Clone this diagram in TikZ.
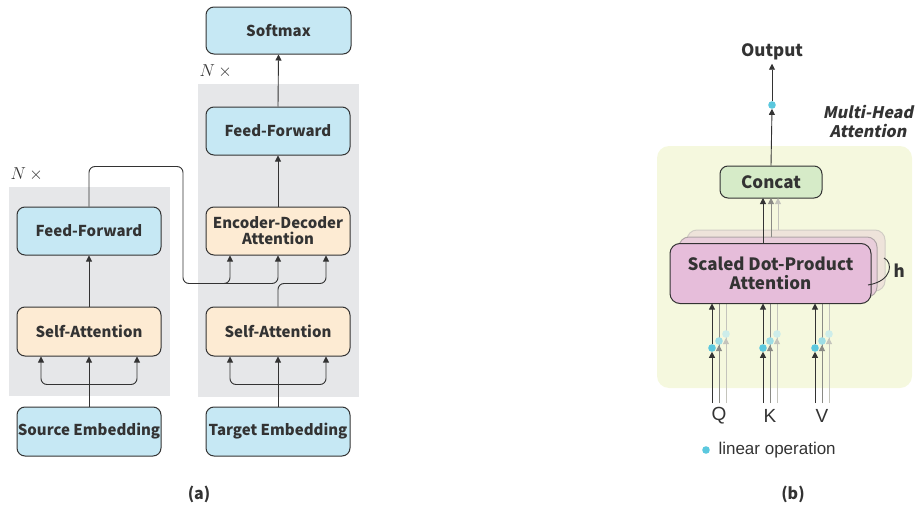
\documentclass[tikz,border=0pt]{standalone}
\usepackage{fontspec}
\setmainfont{Noto Sans CJK SC}
\newfontfamily\slantf[FakeSlant=0.2]{Noto Sans CJK SC}
\newfontfamily\arialf{Liberation Sans}
\usetikzlibrary{arrows.meta,calc}
\definecolor{boxblue}{HTML}{C6E8F4}
\definecolor{boxorange}{HTML}{FDEBD3}
\definecolor{bggray}{HTML}{E6E7E9}
\definecolor{bgyellow}{HTML}{F5F8DE}
\definecolor{boxpink}{HTML}{E6BDDA}
\definecolor{boxpinkb}{HTML}{E9CEDB}
\definecolor{boxbeige}{HTML}{EEE3DA}
\definecolor{boxgreen}{HTML}{D6EBC8}
\definecolor{dotcyan}{HTML}{5BC8DE}
\definecolor{dotcyanb}{HTML}{9EDDE5}
\definecolor{dotcyanc}{HTML}{CDEDEA}
\definecolor{linegray}{HTML}{8A8A85}
\definecolor{linelight}{HTML}{C4C4BC}
\definecolor{edge}{HTML}{333333}
\tikzset{
  blk/.style={draw=edge, line width=1pt, rounded corners=8pt, minimum width=144pt, minimum height=48pt, font=\fontsize{15}{18}\selectfont\bfseries, text=edge, align=center, inner sep=0pt},
  bluebox/.style={blk, fill=boxblue},
  orangebox/.style={blk, fill=boxorange},
  arr/.style={draw=edge, line width=0.9pt, -{Triangle[length=6pt,width=6pt]}},
  ln/.style={draw=edge, line width=0.9pt},
  lbl/.style={font=\fontsize{17}{20}\selectfont\bfseries, text=edge},
  nlab/.style={anchor=west, font=\fontsize{16}{19}\selectfont, text=edge},
}
\begin{document}
\begin{tikzpicture}[x=1pt,y=-1pt]
\useasboundingbox (0,0) rectangle (919,506);
% ---------- (a) ----------
\fill[bggray] (9,187) rectangle (170,396);
\fill[bggray] (198,84) rectangle (359,397);
\node[nlab] (nl) at (7,174) {$N$ $\times$};
\node[nlab] (nr) at (196,71) {$N$ $\times$};

\node[bluebox] (lff) at (89,231) {Feed-Forward};
\node[orangebox, minimum height=49pt] (lsa) at (89,331.5) {Self-Attention};
\node[bluebox, minimum height=49pt] (src) at (89,431.5) {Source Embedding};

\node[bluebox, minimum width=145pt, minimum height=47pt] (soft) at (278.5,30.5) {Softmax};
\node[bluebox] (rff) at (278,131) {Feed-Forward};
\node[orangebox] (ed) at (278,231) {Encoder-Decoder\\[-2pt]Attention};
\node[orangebox, minimum height=49pt] (rsa) at (278,331.5) {Self-Attention};
\node[bluebox, minimum height=49pt] (tgt) at (278,431.5) {Target Embedding};

% left encoder
\draw[arr] (src.north) -- (lsa.south);
\draw[arr, rounded corners=6pt] ($(lsa.south)+(0,28)$) -| ($(lsa.south)+(-48,0)$);
\draw[arr, rounded corners=6pt] ($(lsa.south)+(0,28)$) -| ($(lsa.south)+(48,0)$);
\draw[arr] (lsa.north) -- (lff.south);
% right decoder
\draw[arr] (tgt.north) -- (rsa.south);
\draw[arr, rounded corners=6pt] ($(rsa.south)+(0,28)$) -| ($(rsa.south)+(-48,0)$);
\draw[arr, rounded corners=6pt] ($(rsa.south)+(0,28)$) -| ($(rsa.south)+(48,0)$);
\draw[arr, rounded corners=6pt] (rsa.north) -- ++(0,-23) -| ($(ed.south)+(48,0)$);
\draw[arr, rounded corners=6pt] (lff.north) -- ++(0,-40) -| ($(ed.south)+(-95,28)$) -| (ed.south);
\draw[arr, rounded corners=6pt] ($(ed.south)+(-70,28)$) -| ($(ed.south)+(-48,0)$);
\draw[arr] (ed.north) -- (rff.south);
\draw[arr] (rff.north) -- (soft.south);

\node[lbl, font=\fontsize{16}{19}\selectfont\bfseries] (la) at (199,494) {(a)};

% ---------- (b) ----------
\fill[bgyellow, rounded corners=12pt] (657,146) rectangle (912,388);
\node[lbl, font=\slantf\fontsize{16}{20}\selectfont\bfseries, align=center, text=edge] (mha) at (868,121) {Multi-Head\\[-1pt]Attention};

% stacked heads
\draw[draw=linelight!70!boxbeige, line width=1pt, fill=boxbeige, rounded corners=10pt] (687,230) rectangle (885,291);
\draw[draw=linegray!60!boxpinkb, line width=1pt, fill=boxpinkb, rounded corners=10pt] (679,237) rectangle (877,297);

\node[blk, fill=boxgreen, minimum width=102pt, minimum height=32pt, font=\fontsize{17}{20}\selectfont\bfseries] (concat) at (771,182) {Concat};
\node[lbl] (out) at (772,52) {Output};
\coordinate (odot) at (772,105);

% lines from heads to concat
\draw[draw=linelight, line width=0.9pt, -{Triangle[length=6pt,width=6pt]}] (778,230) -- (778,198);
\draw[draw=linegray, line width=0.9pt, -{Triangle[length=6pt,width=6pt]}] (771,237) -- (771,198);

% Q K V lines (gray ones, behind the main box)
\foreach \b/\nm in {712/Q,763/K,815/V}{
  \draw[draw=linelight, line width=0.9pt] (\b+14,403) -- (\b+14,298);
  \draw[draw=linelight, line width=0.9pt, -{Triangle[length=6pt,width=6pt]}] (\b+14,345) -- (\b+14,338);
  \draw[draw=linegray, line width=0.9pt] (\b+7,403) -- (\b+7,298);
  \draw[draw=linegray, line width=0.9pt, -{Triangle[length=6pt,width=6pt]}] (\b+7,352) -- (\b+7,345);
  \fill[dotcyanc] (\b+14,334) circle (3.8pt);
  \fill[dotcyanb] (\b+7,341) circle (3.8pt);
}

\node[blk, fill=boxpink, minimum width=201pt, minimum height=60pt, rounded corners=10pt, font=\fontsize{17}{20}\selectfont\bfseries] (sdpa) at (770.5,273.5) {Scaled Dot-Product\\[-1pt]Attention};

\foreach \b/\nm in {712/Q,763/K,815/V}{
  \coordinate (bot\nm) at (\b,403);
  \coordinate (dot\nm) at (\b,348);
  \draw[arr] (bot\nm) -- ($(dot\nm)+(0,3.8)$);
  \fill[dotcyan] (dot\nm) circle (3.8pt);
  \draw[arr] ($(dot\nm)+(0,-3.8)$) -- (\b,303.5);
  \node[font=\arialf\fontsize{19}{22}\selectfont, text=edge] (lab\nm) at (\b+7,416) {\nm};
}

% black line from main head to concat
\draw[arr] (763,243.5) -- (763,198);

% output
\draw[arr] (concat.north) -- ($(odot)+(0,3.8)$);
\fill[dotcyan] (odot) circle (3.8pt);
\draw[arr] ($(odot)+(0,-3.8)$) -- (out.south);

% h brace
\draw[draw=edge, line width=0.9pt] (884,258) .. controls (893,262) and (893,281) .. (868,285);
\node[lbl, anchor=west] (h) at (890,271) {h};

% legend
\fill[dotcyan] (706,450) circle (3.8pt);
\node[font=\arialf\fontsize{17}{20}\selectfont, text=edge, anchor=west] (leg) at (715,450) {linear operation};

\node[lbl, font=\fontsize{16}{19}\selectfont\bfseries] (lb) at (793,494) {(b)};
\end{tikzpicture}
\end{document}
